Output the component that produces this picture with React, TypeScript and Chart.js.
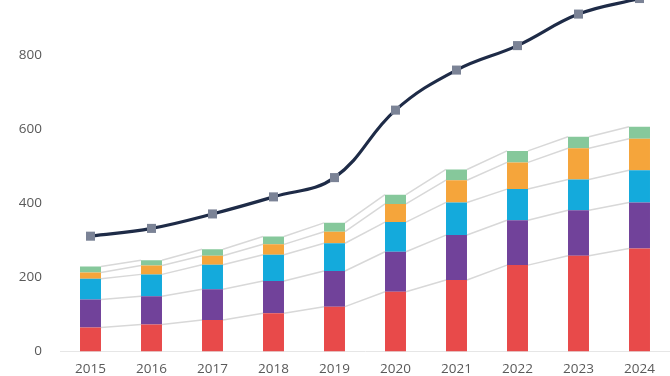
import React, { useEffect, useRef } from "react";
import { Chart, registerables } from "chart.js";

Chart.register(...registerables);

const years = ["2015", "2016", "2017", "2018", "2019", "2020", "2021", "2022", "2023", "2024"];
const redSeries = [65, 73, 85, 103, 121, 161, 193, 233, 258, 278];
const purpleSeries = [75, 76, 83, 87, 96, 108, 121, 121, 123, 124];
const blueSeries = [56, 59, 66, 71, 75, 80, 88, 84, 83, 87];
const orangeSeries = [17, 24, 24, 28, 31, 49, 60, 72, 84, 85];
const greenSeries = [16, 14, 18, 21, 24, 25, 29, 31, 31, 32];
const totalLine = [311, 332, 371, 417, 469, 651, 759, 825, 910, 952];
const yTicks = [0, 200, 400, 600, 800];

const connectorPlugin = {
  id: "connectors",
  beforeDatasetsDraw(chart: any) {
    const ctx = chart.ctx;
    ctx.save();
    ctx.strokeStyle = "#d8d8d8";
    ctx.lineWidth = 1.5;
    chart.data.datasets.forEach((ds: any, di: number) => {
      if (ds.type === "line") return;
      const meta = chart.getDatasetMeta(di);
      const els = meta.data;
      for (let i = 0; i < els.length - 1; i++) {
        const a = els[i];
        const b = els[i + 1];
        ctx.beginPath();
        ctx.moveTo(a.x + a.width / 2, a.y);
        ctx.lineTo(b.x - b.width / 2, b.y);
        ctx.stroke();
      }
    });
    ctx.restore();
  },
};

export default function App() {
  const ref = useRef<HTMLCanvasElement | null>(null);
  useEffect(() => {
    document.body.style.margin = "0";
    const canvas = ref.current;
    if (!canvas) return;
    const barCommon = {
      type: "bar" as const,
      stack: "bars",
      order: 1,
      categoryPercentage: 0.344,
      barPercentage: 1,
      borderWidth: 0,
    };
    const chart = new Chart(canvas, {
      type: "bar",
      data: {
        labels: years,
        datasets: [
          {
            type: "line",
            label: "Total",
            data: totalLine,
            stack: "line",
            order: 0,
            borderColor: "#1e2b47",
            borderWidth: 3.2,
            tension: 0.4,
            pointStyle: "rect",
            pointRadius: 6.4,
            pointBackgroundColor: "#7b8396",
            pointBorderColor: "#7b8396",
            pointBorderWidth: 0,
            clip: false,
          } as any,
          { ...barCommon, label: "A", data: redSeries, backgroundColor: "#e84a4a" },
          { ...barCommon, label: "B", data: purpleSeries, backgroundColor: "#71429a" },
          { ...barCommon, label: "C", data: blueSeries, backgroundColor: "#14aadc" },
          { ...barCommon, label: "D", data: orangeSeries, backgroundColor: "#f5a53b" },
          { ...barCommon, label: "E", data: greenSeries, backgroundColor: "#86c89b" },
        ],
      },
      options: {
        responsive: false,
        animation: false,
        layout: { autoPadding: false, padding: { left: 0, right: 0, top: 0, bottom: 0 } },
        plugins: {
          legend: { display: false },
          title: { display: false },
          tooltip: { enabled: false },
        },
        scales: {
          x: {
            stacked: true,
            grid: { display: false, drawTicks: false },
            border: { display: true, color: "#e6e6e6", width: 1 },
            ticks: {
              color: "#595959",
              padding: 10,
              font: { family: "'Open Sans'", size: 13.5 },
              maxRotation: 0,
            },
            afterFit: (scale: any) => {
              scale.height = 24.5;
              scale.paddingLeft = 0;
              scale.paddingRight = 0;
            },
          },
          y: {
            stacked: true,
            min: 0,
            max: 948,
            grid: { display: false, drawTicks: false },
            border: { display: false },
            ticks: {
              stepSize: 200,
              includeBounds: false,
              color: "#595959",
              padding: 18,
              font: { family: "'Open Sans'", size: 13.5 },
            },
            afterBuildTicks: (scale: any) => {
              scale.ticks = yTicks.map((v) => ({ value: v }));
            },
            afterFit: (scale: any) => {
              scale.width = 60;
              scale.paddingTop = 0;
              scale.paddingBottom = 0;
            },
          },
        },
      },
      plugins: [connectorPlugin],
    });
    return () => chart.destroy();
  }, []);
  return (
    <div style={{ width: 670, height: 376, background: "#ffffff" }}>
      <canvas ref={ref} width={670} height={376} style={{ display: "block" }} />
    </div>
  );
}
